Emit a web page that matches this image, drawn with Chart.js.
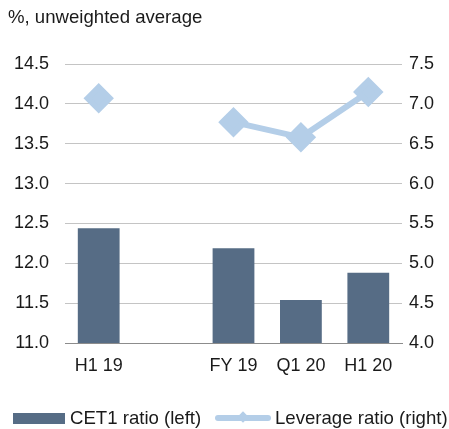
<!DOCTYPE html>
<html>
<head>
<meta charset="utf-8">
<script src="https://cdn.jsdelivr.net/npm/chart.js@4.4.0/dist/chart.umd.min.js"></script>
<style>
  body { margin: 0; background: #fff; font-family: "Liberation Sans", Arial, sans-serif; color: #1a1a1a; }
  #wrap { position: relative; width: 449px; height: 429px; }
  #title { position: absolute; left: 8px; top: 6px; font-size: 18.6px; }
  .leg { position: absolute; top: 406px; font-size: 18.6px; white-space: nowrap; }
  .leg span { display: inline-block; vertical-align: middle; }
  #legBar { left: 13px; }
  #legLine { left: 215px; }
  .box { width: 52px; height: 11px; background: #566c85; margin-right: 5px; }
  .ln { position: relative; width: 56px; height: 6px; background: #b4cee8; border-radius: 3px; margin-right: 4px; }
  .ln i { position: absolute; left: 24px; top: -2px; width: 8px; height: 8px; background: #b4cee8; transform: rotate(45deg); }
</style>
</head>
<body>
<div id="wrap">
  <canvas id="chart" width="449" height="429"></canvas>
  <div id="title">%, unweighted average</div>
  <div class="leg" id="legBar"><span class="box"></span><span>CET1 ratio (left)</span></div>
  <div class="leg" id="legLine"><span class="ln"><i></i></span><span>Leverage ratio (right)</span></div>
</div>
<script>
// data
const categories = ['H1 19', '', 'FY 19', 'Q1 20', 'H1 20'];
const cet1Ratio = [12.44, null, 12.19, 11.54, 11.88];
const leverageRatio = [7.07, null, 6.77, 6.58, 7.15];
const leftTicks = [11.0, 11.5, 12.0, 12.5, 13.0, 13.5, 14.0, 14.5];
const rightTicks = [4.0, 4.5, 5.0, 5.5, 6.0, 6.5, 7.0, 7.5];

const barColor = '#566c85';
const lineColor = '#b4cee8';
const tickFont = { family: 'Liberation Sans', size: 18 };

const ctx = document.getElementById('chart').getContext('2d');
new Chart(ctx, {
    data: {
        labels: categories,
        datasets: [
            {
                type: 'line',
                label: 'Leverage ratio (right)',
                data: leverageRatio,
                yAxisID: 'yRight',
                borderColor: lineColor,
                backgroundColor: lineColor,
                borderWidth: 6,
                pointStyle: 'rectRot',
                pointRadius: 11,
                pointHoverRadius: 11,
                spanGaps: false,
                order: 0
            },
            {
                type: 'bar',
                label: 'CET1 ratio (left)',
                data: cet1Ratio,
                yAxisID: 'yLeft',
                backgroundColor: barColor,
                barPercentage: 0.62,
                categoryPercentage: 1,
                order: 1
            }
        ]
    },
    options: {
        responsive: false,
        animation: false,
        layout: { padding: { top: 64, left: 0, right: 0, bottom: 0 } },
        plugins: {
            legend: { display: false },
            tooltip: { enabled: false }
        },
        scales: {
            x: {
                grid: { display: false, drawTicks: false },
                border: { color: '#8c8c8c', width: 1 },
                ticks: { color: '#1a1a1a', font: tickFont, padding: 12, maxRotation: 0 },
                afterFit: (s) => { s.height = 86; }
            },
            yLeft: {
                position: 'left',
                min: 11,
                max: 14.5,
                afterBuildTicks: (s) => { s.ticks = leftTicks.map(v => ({ value: v })); },
                grid: { color: '#c4c4c4', drawTicks: false },
                border: { display: false },
                ticks: { color: '#1a1a1a', font: tickFont, padding: 16, callback: (v) => v.toFixed(1) },
                afterFit: (s) => { s.width = 65; }
            },
            yRight: {
                position: 'right',
                min: 4,
                max: 7.5,
                afterBuildTicks: (s) => { s.ticks = rightTicks.map(v => ({ value: v })); },
                grid: { display: false, drawTicks: false },
                border: { display: false },
                ticks: { color: '#1a1a1a', font: tickFont, padding: 7, callback: (v) => v.toFixed(1) },
                afterFit: (s) => { s.width = 47; }
            }
        }
    }
});
</script>
</body>
</html>
